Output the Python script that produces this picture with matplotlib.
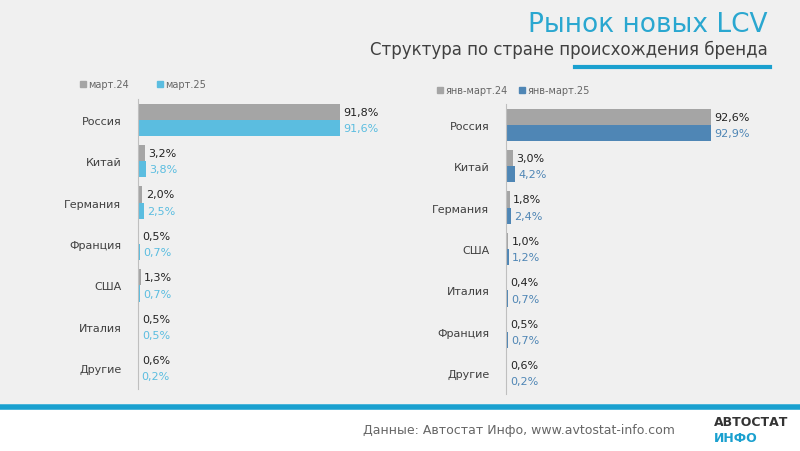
import numpy as np
import matplotlib.pyplot as plt

# --- data ---
left_cats = ["Россия", "Китай", "Германия", "Франция", "США", "Италия", "Другие"]
left_m24 = [91.8, 3.2, 2.0, 0.5, 1.3, 0.5, 0.6]
left_m25 = [91.6, 3.8, 2.5, 0.7, 0.7, 0.5, 0.2]
left_names = ["март.24", "март.25"]

right_cats = ["Россия", "Китай", "Германия", "США", "Италия", "Франция", "Другие"]
right_q24 = [92.6, 3.0, 1.8, 1.0, 0.4, 0.5, 0.6]
right_q25 = [92.9, 4.2, 2.4, 1.2, 0.7, 0.7, 0.2]
right_names = ["янв-март.24", "янв-март.25"]

GRAY = "#a5a5a5"
fig = plt.figure(figsize=(8, 4.52), dpi=100)
fig.patch.set_facecolor("white")
bg = fig.add_axes([0, 1 - 405 / 452, 1, 405 / 452])
bg.set_facecolor("#f0f0f0"); bg.set_axis_off()
bg.add_patch(plt.Rectangle((0, 0), 1, 1, color="#f0f0f0", transform=bg.transAxes))
fig.add_artist(plt.Line2D([0, 1], [1 - 408 / 452] * 2, color="#1aa0cf", lw=4))
fig.add_artist(plt.Line2D([575 / 800, 770 / 800], [1 - 68 / 452] * 2, color="#1aa0cf", lw=3))

fig.text(768 / 800, 1 - 25 / 452, "Рынок новых LCV", color="#2aa7d0", fontsize=19, ha="right", va="center")
fig.text(768 / 800, 1 - 50 / 452, "Структура по стране происхождения бренда", color="#404040", fontsize=12, ha="right", va="center")
fig.text(675 / 800, 1 - 431 / 452, "Данные: Автостат Инфо, www.avtostat-info.com", color="#666666", fontsize=9, ha="right", va="center")
fig.text(714 / 800, 1 - 423 / 452, "АВТОСТАТ", color="#333333", fontsize=9, weight="bold", va="center")
fig.text(714 / 800, 1 - 439 / 452, "ИНФО", color="#1aa0cf", fontsize=9, weight="bold", va="center")


def panel(rect, cats, a, b, names, c2, legy, legx):
    ax = fig.add_axes(rect)
    ax.set_facecolor("none")
    y = np.arange(len(cats))
    h = 0.39
    ax.barh(y - h / 2, a, h, color=GRAY)
    ax.barh(y + h / 2, b, h, color=c2)
    for yi, v1, v2 in zip(y, a, b):
        ax.text(v1 + 1.5, yi - h / 2, f"{v1:.1f}%".replace(".", ","), va="center", fontsize=8, color="#222222")
        ax.text(v2 + 1.5, yi + h / 2, f"{v2:.1f}%".replace(".", ","), va="center", fontsize=8, color=c2)
    ax.set_yticks(y)
    ax.set_yticklabels(cats, fontsize=8, color="#404040")
    ax.set_ylim(len(cats) - 0.5, -0.5)
    ax.set_xlim(0, 100)
    ax.set_xticks([])
    for s in ["top", "right", "bottom"]:
        ax.spines[s].set_visible(False)
    ax.spines["left"].set_color("#bfbfbf")
    ax.tick_params(axis="y", length=0, pad=12)
    for x0, nm, col in zip(legx, names, [GRAY, c2]):
        fig.add_artist(plt.Rectangle((x0 / 800, 1 - (legy + 3) / 452), 6 / 800, 6 / 452, color=col))
        fig.text((x0 + 8) / 800, 1 - legy / 452, nm, color="#666666", fontsize=7, va="center")


panel([138 / 800, 1 - 390 / 452, 220 / 800, 290 / 452], left_cats, left_m24, left_m25, left_names,
      "#5bbde0", 85, (80, 157))
panel([506 / 800, 1 - 395 / 452, 221 / 800, 290 / 452], right_cats, right_q24, right_q25, right_names,
      "#4f86b5", 91, (437, 519))

fig.savefig("out.png", dpi=100)
